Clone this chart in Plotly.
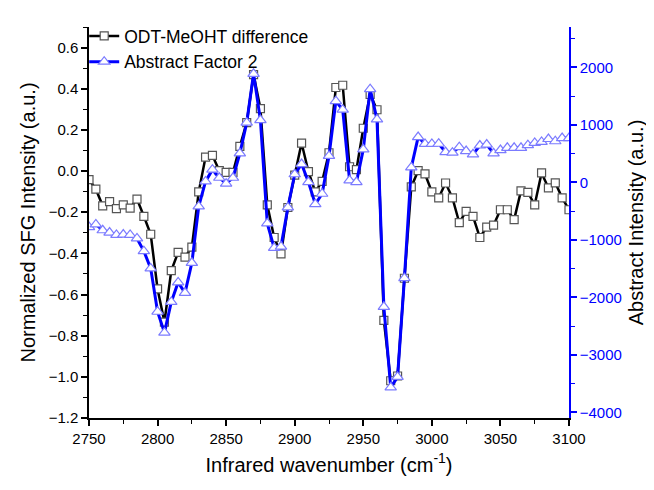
import plotly.graph_objects as go

wavenumber = [2750 + 5 * i for i in range(71)]

odt_meoht_difference = [
    -0.042, -0.088, -0.169, -0.149, -0.183, -0.164, -0.180, -0.136, -0.220, -0.307,
    -0.573, -0.734, -0.484, -0.395, -0.418, -0.370, -0.101, 0.068, 0.076, 0.002,
    -0.006, -0.006, 0.120, 0.235, 0.469, 0.303, -0.164, -0.323, -0.402, -0.177,
    -0.020, 0.136, -0.003, -0.101, -0.050, 0.089, 0.406, 0.417, 0.021, 0.007,
    0.208, 0.372, 0.298, -0.726, -1.019, -0.996, -0.521, -0.077, 0.002, -0.014,
    -0.101, -0.130, -0.058, -0.130, -0.251, -0.196, -0.220, -0.323, -0.272, -0.263,
    -0.188, -0.188, -0.236, -0.096, -0.104, -0.164, -0.009, -0.082, -0.057, -0.130,
    -0.188,
]

abstract_factor_2 = [
    -779, -733, -835, -875, -915, -910, -915, -977, -1198, -1498,
    -2252, -2615, -2082, -1741, -1923, -1401, -421, 15, 219, 78,
    -24, 78, 503, 1036, 1886, 1082, -716, -1141, -1119, -438,
    139, 316, 3, -381, -200, 457, 1410, 1262, 32, 3,
    571, 1619, 1092, -2167, -3568, -3386, -1668, 259, 786, 667,
    667, 670, 525, 515, 610, 542, 486, 639, 656, 503,
    560, 599, 599, 599, 645, 684, 701, 752, 713, 769,
    769,
]

FONT = "Arial, Liberation Sans, sans-serif"
BLUE = "#0000ff"

fig = go.Figure()
fig.add_trace(go.Scatter(
    x=wavenumber, y=odt_meoht_difference, name="ODT-MeOHT difference",
    mode="lines+markers",
    line=dict(color="black", width=2.5),
    marker=dict(symbol="square", size=8, color="white", line=dict(width=1.2, color="#555555")),
))
fig.add_trace(go.Scatter(
    x=wavenumber, y=abstract_factor_2, name="Abstract Factor 2",
    mode="lines+markers", yaxis="y2",
    line=dict(color=BLUE, width=3),
    marker=dict(symbol="triangle-up", size=10, color="white", line=dict(width=1.2, color="#7b7bff")),
))

fig.update_layout(
    width=646, height=474,
    margin=dict(l=81, r=85, t=10, b=64),
    plot_bgcolor="white", paper_bgcolor="white",
    font=dict(family=FONT, size=15, color="black"),
    showlegend=True,
    legend=dict(x=-0.01, y=1.023, xanchor="left", yanchor="top",
                bgcolor="rgba(0,0,0,0)", font=dict(size=17.5, color="black"),
                tracegroupgap=0, itemwidth=30),
    xaxis=dict(
        range=[2750, 3100], tickvals=[2750, 2800, 2850, 2900, 2950, 3000, 3050, 3100],
        automargin=False,
        showgrid=False, zeroline=False, showline=True, linecolor="black", linewidth=1.5,
        ticks="outside", ticklen=6, tickwidth=1.5, tickcolor="black",
        minor=dict(dtick=25, ticks="outside", ticklen=4, tickwidth=1.2, tickcolor="black"),
        tickfont=dict(size=15),
        title=dict(text="Infrared wavenumber (cm<sup>-1</sup>)", font=dict(size=20), standoff=12),
    ),
    yaxis=dict(
        range=[-1.2, 0.7], tickvals=[-1.2, -1.0, -0.8, -0.6, -0.4, -0.2, 0.0, 0.2, 0.4, 0.6],
        tickformat=".1f", automargin=False,
        showgrid=False, zeroline=False, showline=True, linecolor="black", linewidth=1.5,
        ticks="outside", ticklen=6, tickwidth=1.5, tickcolor="black",
        minor=dict(dtick=0.1, ticks="outside", ticklen=4, tickwidth=1.2, tickcolor="black"),
        tickfont=dict(size=15),
        title=dict(text="Normalized SFG Intensity (a.u.)", font=dict(size=20), standoff=8),
    ),
    yaxis2=dict(
        overlaying="y", side="right", anchor="x", automargin=False,
        range=[-4100, 2700], tickvals=[-4000, -3000, -2000, -1000, 0, 1000, 2000],
        showgrid=False, zeroline=False, showline=True, linecolor=BLUE, linewidth=1.5,
        ticks="outside", ticklen=6, tickwidth=1.5, tickcolor=BLUE,
        minor=dict(dtick=500, ticks="outside", ticklen=4, tickwidth=1.2, tickcolor=BLUE),
        tickfont=dict(size=15, color=BLUE),
        title=dict(text="Abstract Intensity (a.u.)", font=dict(size=20, color="black"), standoff=8),
    ),
)

fig.write_html("out.html")
